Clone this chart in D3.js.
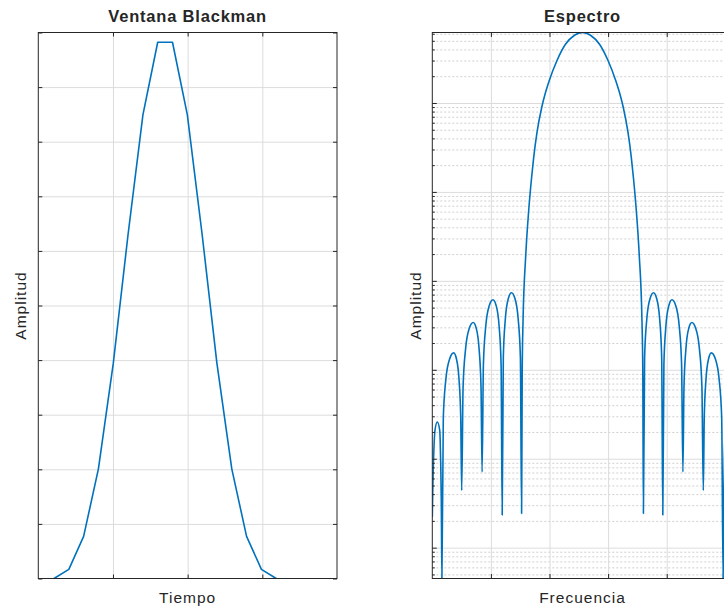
<!DOCTYPE html>
<html>
<head>
<meta charset="utf-8">
<script src="https://cdn.jsdelivr.net/npm/d3@7/dist/d3.min.js"></script>
<style>
  body { margin: 0; background: #fff; }
  svg { display: block; }
  text { font-family: "Liberation Sans", Arial, Helvetica, sans-serif; fill: #262626; }
</style>
</head>
<body>
<div id="container"></div>
<script>
// ventana Blackman de 16 muestras
const tiempo = [0.210, 0.409, 0.607, 0.805, 1.004, 1.202, 1.401, 1.599,
                1.797, 1.996, 2.194, 2.392, 2.591, 2.789, 2.988, 3.186];
const ventana = [0, 0.0168, 0.0771, 0.2008, 0.3940, 0.6300, 0.8492, 0.9822,
                 0.9822, 0.8492, 0.6300, 0.3940, 0.2008, 0.0771, 0.0168, 0];
const tiempoTicks = [1, 2, 3];
const amplitudTicks = [0, 0.1, 0.2, 0.3, 0.4, 0.5, 0.6, 0.7, 0.8, 0.9, 1];

// espectro (magnitud, eje log)
const frecuencia = [
  0.0000, 0.0136, 0.0290, 0.0460, 0.0853, 0.1262, 0.1433, 0.1535, 0.1638,
  0.1880, 0.2322, 0.2967, 0.3651, 0.4116, 0.4553, 0.4853, 0.5017,
  0.5252, 0.5684, 0.6312, 0.6979, 0.7496, 0.7981, 0.8315, 0.8498,
  0.8721, 0.9131, 0.9725, 1.0358, 1.0892, 1.1394, 1.1740, 1.1928,
  1.2119, 1.2467, 1.2976, 1.3515, 1.4100, 1.4653, 1.5032, 1.5239,
  1.5341, 1.5477, 1.5955, 1.6450, 1.6928, 1.7303, 1.7866, 1.8669, 1.9317, 1.9965, 2.1279, 2.2696, 2.4266,
  2.5631,
  2.6996, 2.8566, 2.9983, 3.1297, 3.1945, 3.2593, 3.3396, 3.3959, 3.4334, 3.4812, 3.5307, 3.5785, 3.5921,
  3.6023, 3.6230, 3.6609, 3.7162, 3.7747, 3.8286, 3.8795, 3.9143,
  3.9334, 3.9522, 3.9868, 4.0370, 4.0904, 4.1537, 4.2131, 4.2541,
  4.2764, 4.2947, 4.3281, 4.3766, 4.4283, 4.4950, 4.5578, 4.6010,
  4.6245, 4.6409, 4.6709, 4.7146, 4.7611, 4.8295, 4.8940, 4.9382,
  4.9624, 4.9727, 4.9829, 5.0000, 5.0409, 5.0802, 5.0972, 5.1126, 5.1262
];
const espectro = [
  2.21e-5, 6.57e-5, 1.37e-4, 2.10e-4, 2.59e-4, 2.10e-4, 8.96e-5, 3.44e-5, 4.5e-6,
  2.90e-4, 7.89e-4, 1.33e-3, 1.55e-3, 1.33e-3, 7.89e-4, 2.90e-4, 4.40e-5,
  6.36e-4, 1.73e-3, 2.93e-3, 3.40e-3, 2.93e-3, 1.73e-3, 6.36e-4, 7.10e-5,
  1.15e-3, 3.13e-3, 5.29e-3, 6.14e-3, 5.29e-3, 3.13e-3, 1.15e-3, 2.33e-5,
  1.38e-3, 3.75e-3, 6.34e-3, 7.36e-3, 6.34e-3, 3.75e-3, 1.38e-3, 2.42e-5,
  9.33e-4, 3.40e-3, 1.98e-2, 6.18e-2, 0.1415, 0.244, 0.466, 0.890, 1.31, 1.79, 3.00, 4.54, 5.78,
  6.2,
  5.78, 4.54, 3.00, 1.79, 1.31, 0.890, 0.466, 0.244, 0.1415, 6.18e-2, 1.98e-2, 3.40e-3, 9.33e-4,
  2.42e-5, 1.38e-3, 3.75e-3, 6.34e-3, 7.36e-3, 6.34e-3, 3.75e-3, 1.38e-3,
  2.33e-5, 1.15e-3, 3.13e-3, 5.29e-3, 6.14e-3, 5.29e-3, 3.13e-3, 1.15e-3,
  7.10e-5, 6.36e-4, 1.73e-3, 2.93e-3, 3.40e-3, 2.93e-3, 1.73e-3, 6.36e-4,
  4.40e-5, 2.90e-4, 7.89e-4, 1.33e-3, 1.55e-3, 1.33e-3, 7.89e-4, 2.90e-4,
  4.5e-6, 3.44e-5, 8.96e-5, 2.10e-4, 2.59e-4, 2.10e-4, 1.37e-4, 6.57e-5, 2.21e-5
];
const frecuenciaTicks = [1, 2, 3, 4];

const width = 724;
const height = 610;
const axisColor = '#262626';
const gridColor = '#dcdcdc';
const lineColor = '#0072BD';

const svg = d3.select('#container')
  .append('svg')
  .attr('width', width)
  .attr('height', height);

svg.append('rect').attr('width', width).attr('height', height).attr('fill', '#fff');

// ---------- panel izquierdo ----------
const L = { left: 38.3, right: 337, top: 32.5, bottom: 578.5 };

const xL = d3.scaleLinear().domain([0, 4]).range([L.left, L.right]);
const yL = d3.scaleLinear().domain([0, 1]).range([L.bottom, L.top]);

// grid
svg.append('g')
  .attr('transform', `translate(0,${L.bottom})`)
  .call(d3.axisBottom(xL).tickValues(tiempoTicks).tickSize(-(L.bottom - L.top)).tickFormat(''))
  .call(g => g.select('.domain').remove())
  .call(g => g.selectAll('line').attr('stroke', gridColor));
svg.append('g')
  .attr('transform', `translate(${L.left},0)`)
  .call(d3.axisLeft(yL).tickValues(amplitudTicks.slice(1, -1)).tickSize(-(L.right - L.left)).tickFormat(''))
  .call(g => g.select('.domain').remove())
  .call(g => g.selectAll('line').attr('stroke', gridColor));

svg.append('path')
  .datum(ventana)
  .attr('fill', 'none')
  .attr('stroke', lineColor)
  .attr('stroke-width', 1.6)
  .attr('stroke-linejoin', 'round')
  .attr('d', d3.line().x((d, i) => xL(tiempo[i])).y(d => yL(d)));

drawTicks(xL, yL, L, tiempoTicks, amplitudTicks, 4);

// ---------- panel derecho ----------
const R = { left: 432.3, right: 732.7, top: 32.5, bottom: 578.5 };

const xR = d3.scaleLinear().domain([0, 5.1262]).range([R.left, R.right]);
const yR = d3.scaleLog().domain([4.5e-6, 6.2]).range([R.bottom, R.top]);

const isDecade = d => Math.abs(Math.log10(d) - Math.round(Math.log10(d))) < 1e-9;
const logTicks = yR.ticks();
const majorY = logTicks.filter(isDecade);
const minorY = logTicks.filter(d => !isDecade(d));

svg.append('g')
  .attr('transform', `translate(${R.left},0)`)
  .call(d3.axisLeft(yR).tickValues(minorY).tickSize(-(R.right - R.left)).tickFormat(''))
  .call(g => g.select('.domain').remove())
  .call(g => g.selectAll('line').attr('stroke', '#cfcfcf').attr('stroke-dasharray', '2,2'));
svg.append('g')
  .attr('transform', `translate(${R.left},0)`)
  .call(d3.axisLeft(yR).tickValues(majorY).tickSize(-(R.right - R.left)).tickFormat(''))
  .call(g => g.select('.domain').remove())
  .call(g => g.selectAll('line').attr('stroke', gridColor));
svg.append('g')
  .attr('transform', `translate(0,${R.bottom})`)
  .call(d3.axisBottom(xR).tickValues(frecuenciaTicks).tickSize(-(R.bottom - R.top)).tickFormat(''))
  .call(g => g.select('.domain').remove())
  .call(g => g.selectAll('line').attr('stroke', gridColor));

svg.append('clipPath').attr('id', 'clipR')
  .append('rect')
  .attr('x', R.left).attr('y', R.top)
  .attr('width', R.right - R.left).attr('height', R.bottom - R.top);

svg.append('path')
  .datum(espectro)
  .attr('clip-path', 'url(#clipR)')
  .attr('fill', 'none')
  .attr('stroke', lineColor)
  .attr('stroke-width', 1.6)
  .attr('stroke-linejoin', 'round')
  .attr('d', d3.line().curve(d3.curveMonotoneX).x((d, i) => xR(frecuencia[i])).y(d => yR(d)));

drawTicks(xR, yR, R, frecuenciaTicks, majorY, 4.5);
// minor log ticks (shorter)
svg.append('g').attr('transform', `translate(${R.left},0)`)
  .call(d3.axisRight(yR).tickValues(minorY).tickSizeInner(2.5).tickSizeOuter(0).tickFormat(''))
  .call(g => g.select('.domain').remove())
  .call(g => g.selectAll('line').attr('stroke', axisColor));
svg.append('g').attr('transform', `translate(${R.right},0)`)
  .call(d3.axisLeft(yR).tickValues(minorY).tickSizeInner(2.5).tickSizeOuter(0).tickFormat(''))
  .call(g => g.select('.domain').remove())
  .call(g => g.selectAll('line').attr('stroke', axisColor));

// ---------- textos ----------
function label(x, y, txt, opts) {
  const t = svg.append('text')
    .attr('x', x).attr('y', y)
    .attr('text-anchor', 'middle')
    .attr('font-size', opts.size)
    .attr('letter-spacing', opts.ls)
    .text(txt);
  if (opts.bold) t.attr('font-weight', 'bold');
  if (opts.rotate) t.attr('transform', `rotate(-90,${x},${y})`);
  return t;
}

label((L.left + L.right) / 2, 21.5, 'Ventana Blackman', { size: 16.5, ls: 0.8, bold: true });
label((R.left + R.right) / 2, 21.5, 'Espectro', { size: 16.5, ls: 0.8, bold: true });
label((L.left + L.right) / 2, 602.5, 'Tiempo', { size: 15.5, ls: 1 });
label((R.left + R.right) / 2, 602.5, 'Frecuencia', { size: 15.5, ls: 1 });
label(26, (L.top + L.bottom) / 2, 'Amplitud', { size: 15.5, ls: 1, rotate: true });
label(420.5, (R.top + R.bottom) / 2, 'Amplitud', { size: 15.5, ls: 1, rotate: true });

function drawTicks(x, y, box, xt, yt, len) {
  svg.append('g').attr('transform', `translate(0,${box.bottom})`)
    .call(d3.axisTop(x).tickValues(xt).tickSizeInner(len).tickSizeOuter(0).tickFormat(''))
    .call(g => g.select('.domain').remove())
    .call(g => g.selectAll('line').attr('stroke', axisColor));
  svg.append('g').attr('transform', `translate(0,${box.top})`)
    .call(d3.axisBottom(x).tickValues(xt).tickSizeInner(len).tickSizeOuter(0).tickFormat(''))
    .call(g => g.select('.domain').remove())
    .call(g => g.selectAll('line').attr('stroke', axisColor));
  svg.append('g').attr('transform', `translate(${box.left},0)`)
    .call(d3.axisRight(y).tickValues(yt).tickSizeInner(len).tickSizeOuter(0).tickFormat(''))
    .call(g => g.select('.domain').remove())
    .call(g => g.selectAll('line').attr('stroke', axisColor));
  svg.append('g').attr('transform', `translate(${box.right},0)`)
    .call(d3.axisLeft(y).tickValues(yt).tickSizeInner(len).tickSizeOuter(0).tickFormat(''))
    .call(g => g.select('.domain').remove())
    .call(g => g.selectAll('line').attr('stroke', axisColor));
  svg.append('rect')
    .attr('x', box.left).attr('y', box.top)
    .attr('width', box.right - box.left).attr('height', box.bottom - box.top)
    .attr('fill', 'none')
    .attr('stroke', axisColor)
    .attr('stroke-width', 1);
}
</script>
</body>
</html>
